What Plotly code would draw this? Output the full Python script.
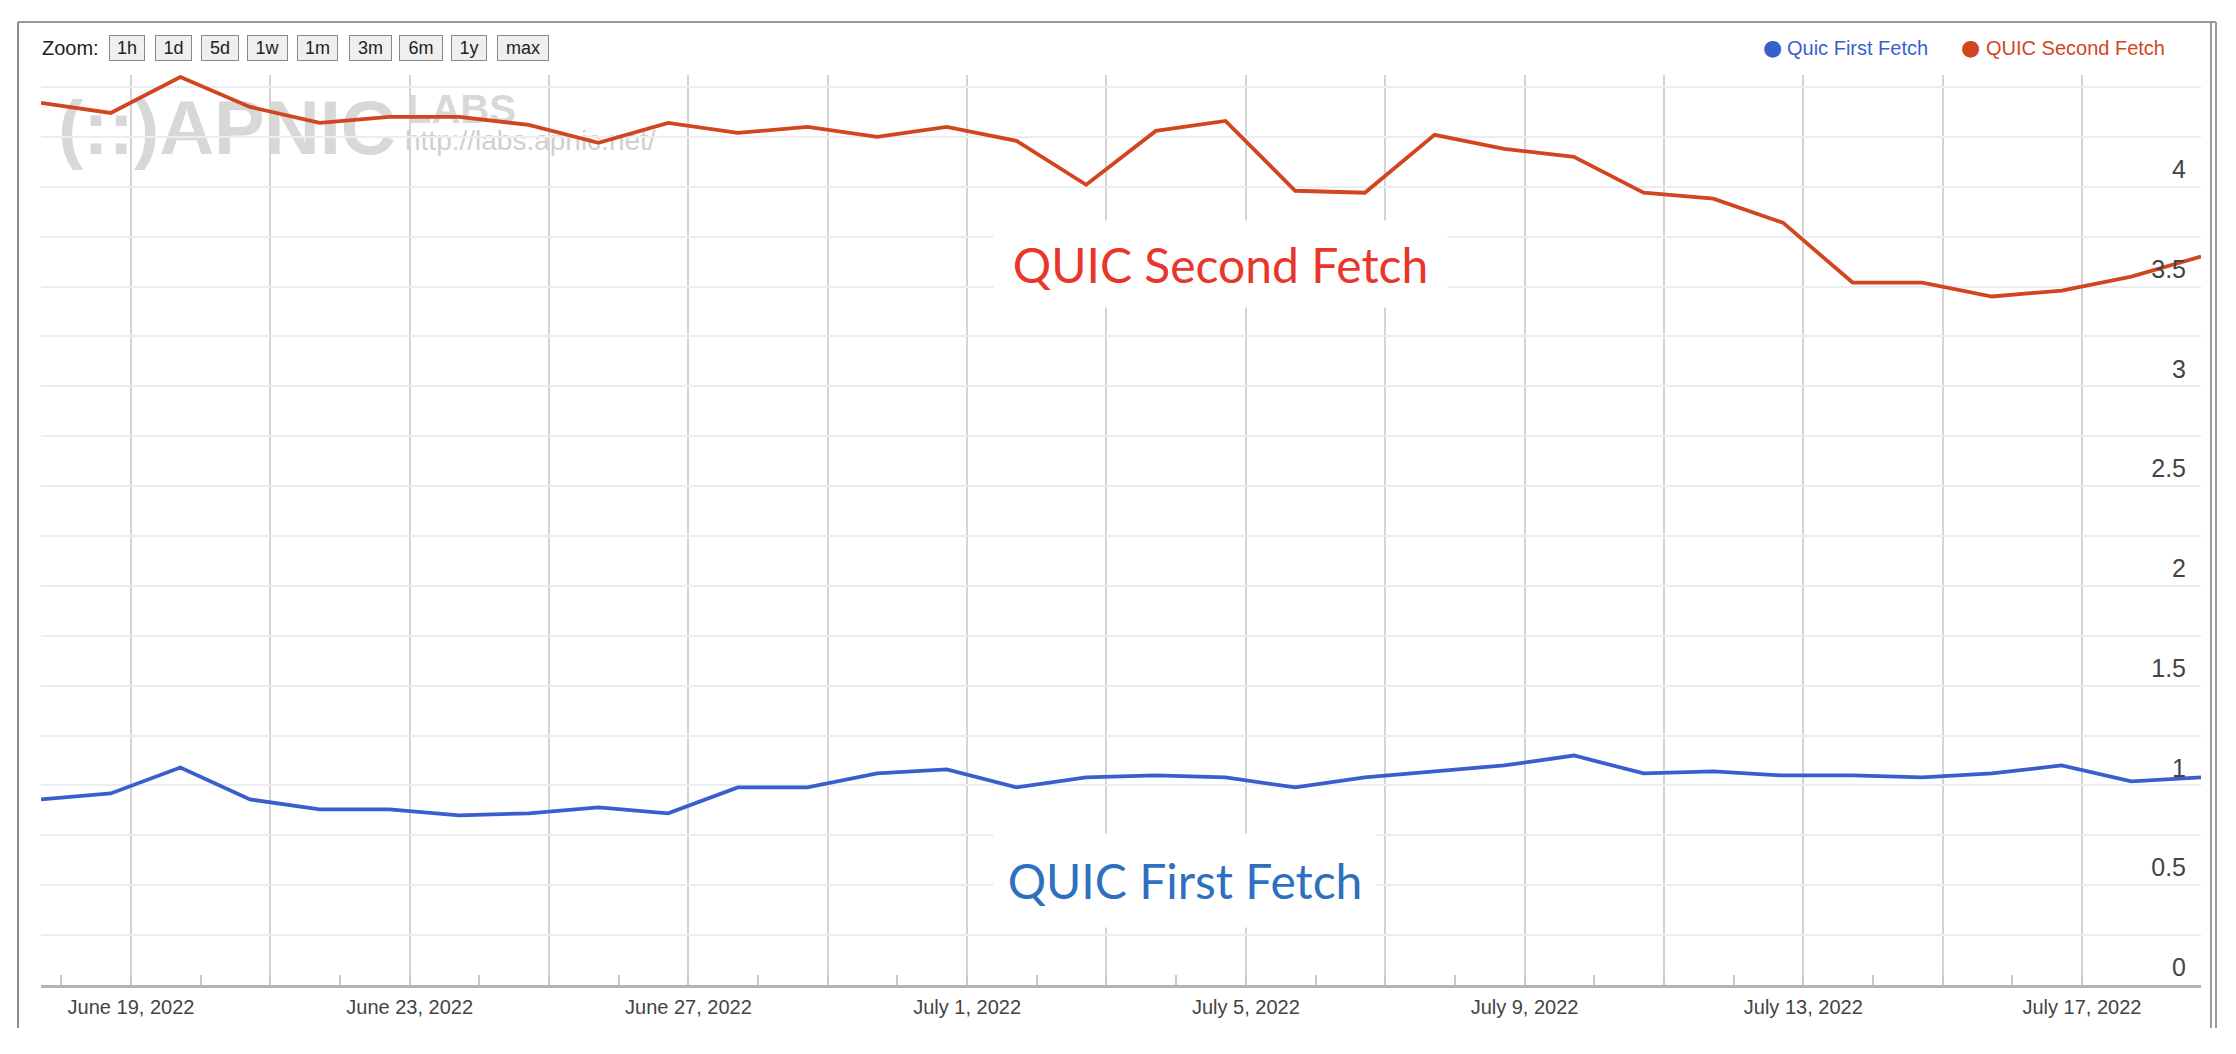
import plotly.graph_objects as go

# ---------------- data ----------------
dates = [
    "2022-06-17 17:00", "2022-06-18 17:00", "2022-06-19 17:00", "2022-06-20 17:00",
    "2022-06-21 17:00", "2022-06-22 17:00", "2022-06-23 17:00", "2022-06-24 17:00",
    "2022-06-25 17:00", "2022-06-26 17:00", "2022-06-27 17:00", "2022-06-28 17:00",
    "2022-06-29 17:00", "2022-06-30 17:00", "2022-07-01 17:00", "2022-07-02 17:00",
    "2022-07-03 17:00", "2022-07-04 17:00", "2022-07-05 17:00", "2022-07-06 17:00",
    "2022-07-07 17:00", "2022-07-08 17:00", "2022-07-09 17:00", "2022-07-10 17:00",
    "2022-07-11 17:00", "2022-07-12 17:00", "2022-07-13 17:00", "2022-07-14 17:00",
    "2022-07-15 17:00", "2022-07-16 17:00", "2022-07-17 17:00", "2022-07-18 17:00",
]

first_fetch = [0.93, 0.96, 1.09, 0.93, 0.88, 0.88, 0.85, 0.86, 0.89, 0.86, 0.99, 0.99,
               1.06, 1.08, 0.99, 1.04, 1.05, 1.04, 0.99, 1.04, 1.07, 1.10, 1.15, 1.06,
               1.07, 1.05, 1.05, 1.04, 1.06, 1.10, 1.02, 1.04]

second_fetch = [4.42, 4.37, 4.55, 4.40, 4.32, 4.35, 4.35, 4.31, 4.22, 4.32, 4.27, 4.30,
                4.25, 4.30, 4.23, 4.01, 4.28, 4.33, 3.98, 3.97, 4.26, 4.19, 4.15, 3.97,
                3.94, 3.82, 3.52, 3.52, 3.45, 3.48, 3.55, 3.65]

series_names = ["Quic First Fetch", "QUIC Second Fetch"]
callout_texts = ["QUIC First Fetch", "QUIC Second Fetch"]

x_tick_vals = ["2022-06-19", "2022-06-21", "2022-06-23", "2022-06-25", "2022-06-27",
               "2022-06-29", "2022-07-01", "2022-07-03", "2022-07-05", "2022-07-07",
               "2022-07-09", "2022-07-11", "2022-07-13", "2022-07-15", "2022-07-17"]
x_tick_text = ["June 19, 2022", "", "June 23, 2022", "", "June 27, 2022", "",
               "July 1, 2022", "", "July 5, 2022", "", "July 9, 2022", "",
               "July 13, 2022", "", "July 17, 2022"]

y_tick_vals = [0, 0.25, 0.5, 0.75, 1, 1.25, 1.5, 1.75, 2, 2.25, 2.5, 2.75,
               3, 3.25, 3.5, 3.75, 4, 4.25, 4.5]
y_tick_text = ["0", "", "0.5", "", "1", "", "1.5", "", "2", "", "2.5", "",
               "3", "", "3.5", "", "4", "", ""]

zoom_labels = ["1h", "1d", "5d", "1w", "1m", "3m", "6m", "1y", "max"]

# ---------------- geometry helpers (page pixels -> paper) ----------------
W, H = 2236, 1054
ML, MR, MT, MB = 41, 35, 75, 69
PW, PH = W - ML - MR, H - MT - MB


def px(x):
    return (x - ML) / PW


def py(y):
    return (H - MB - y) / PH


BLUE = "#3a5fcd"
ORANGE = "#d2461f"

fig = go.Figure()
fig.add_trace(go.Scatter(x=dates, y=first_fetch, mode="lines", name=series_names[0],
                         line=dict(color=BLUE, width=3.8), showlegend=False))
fig.add_trace(go.Scatter(x=dates, y=second_fetch, mode="lines", name=series_names[1],
                         line=dict(color=ORANGE, width=3.8), showlegend=False))

annotations = []
shapes = []

# zoom buttons
annotations.append(dict(text="Zoom:", x=px(70), y=py(48), xref="paper", yref="paper",
                        showarrow=False, xanchor="center", yanchor="middle",
                        font=dict(family="Liberation Sans Narrow, Liberation Sans", size=20,
                                  color="#222222")))
btn_centers = [127, 173, 220, 267, 317, 370, 421, 469, 523]
btn_widths = [36, 37, 38, 41, 41, 43, 44, 36, 52]
for lab, cx, bw in zip(zoom_labels, btn_centers, btn_widths):
    annotations.append(dict(text=lab, x=px(cx), y=py(48), xref="paper", yref="paper",
                            showarrow=False, xanchor="center", yanchor="middle",
                            width=bw - 6, height=20, borderpad=2, borderwidth=1,
                            bordercolor="#8a8a8a", bgcolor="#efefef",
                            font=dict(family="Liberation Sans Narrow, Liberation Sans",
                                      size=18, color="#222222")))

# legend (top right)
legend_items = [(series_names[0], BLUE, 1772, 1785), (series_names[1], ORANGE, 1970, 1984)]
for name, col, dotx, textx in legend_items:
    annotations.append(dict(text="●", x=px(dotx), y=py(47), xref="paper", yref="paper",
                            showarrow=False, xanchor="center", yanchor="middle",
                            font=dict(family="DejaVu Sans", size=22, color=col)))
    annotations.append(dict(text=name, x=px(textx), y=py(48), xref="paper", yref="paper",
                            showarrow=False, xanchor="left", yanchor="middle",
                            font=dict(family="Liberation Sans", size=20, color=col)))

# big callouts
annotations.append(dict(text=callout_texts[1], x=px(1220), y=py(264), xref="paper",
                        yref="paper", showarrow=False, xanchor="center", yanchor="middle",
                        width=433, height=66, borderpad=10, bgcolor="white",
                        font=dict(family="Lato", size=48, color="#e8372a")))
annotations.append(dict(text=callout_texts[0], x=px(1185), y=py(880), xref="paper",
                        yref="paper", showarrow=False, xanchor="center", yanchor="middle",
                        width=362, height=73, borderpad=10, bgcolor="white",
                        font=dict(family="Lato", size=48, color="#2e6fbe")))

# watermark (below gridlines)
wm = [("(::)APNIC", 55, 405, 88, 152, 76, "bold", "#d8d8d8"),
      ("LABS", 404, 520, 86, 124, 40, "bold", "#d8d8d8"),
      ("http://labs.apnic.net/", 402, 700, 122, 152, 28, "normal", "#d0d0d0")]
for txt, x0, x1, y0, y1, fs, wt, col in wm:
    shapes.append(dict(type="rect", xref="paper", yref="paper", x0=px(x0), x1=px(x1),
                       y0=py(y1), y1=py(y0), line=dict(width=0), fillcolor="rgba(0,0,0,0)",
                       layer="below",
                       label=dict(text=txt, textposition="middle left", padding=0,
                                  font=dict(family="Liberation Sans", size=fs, color=col,
                                            weight=wt))))

# outer frame
frame_col = "#9a9a9a"
shapes.append(dict(type="line", xref="paper", yref="paper", x0=px(18), x1=px(18),
                   y0=py(1028), y1=py(22), line=dict(color="#8c8c8c", width=2)))
shapes.append(dict(type="line", xref="paper", yref="paper", x0=px(18), x1=px(2216),
                   y0=py(22), y1=py(22), line=dict(color=frame_col, width=2)))
for xx in (2211, 2216):
    shapes.append(dict(type="line", xref="paper", yref="paper", x0=px(xx), x1=px(xx),
                       y0=py(1028), y1=py(22), line=dict(color=frame_col, width=2)))

fig.update_layout(
    width=W, height=H,
    margin=dict(l=ML, r=MR, t=MT, b=MB, pad=0),
    paper_bgcolor="white", plot_bgcolor="white",
    showlegend=False,
    annotations=annotations,
    shapes=shapes,
    xaxis=dict(
        type="date",
        range=[dates[0], dates[-1]],
        tickmode="array", tickvals=x_tick_vals, ticktext=x_tick_text,
        ticks="", showgrid=True, gridcolor="#d4d4d4", gridwidth=2,
        showline=True, linecolor="#b4b4b4", linewidth=2.5,
        zeroline=False,
        tickfont=dict(family="Liberation Sans", size=20, color="#444444"),
        ticklabelstandoff=2,
        minor=dict(dtick=86400000, tick0="2022-06-18", ticks="inside", ticklen=10,
                   tickwidth=2, tickcolor="#c8c8c8", showgrid=False),
        fixedrange=True,
    ),
    yaxis=dict(
        range=[0, 4.56], side="right",
        tickmode="array", tickvals=y_tick_vals, ticktext=y_tick_text,
        ticks="", showgrid=True, gridcolor="#ececf3", gridwidth=2,
        showline=False, zeroline=False,
        ticklabelposition="inside top",
        ticklabelstandoff=12,
        tickfont=dict(family="Liberation Sans", size=25, color="#444444"),
        fixedrange=True,
    ),
)

fig.write_html("out.html", config=dict(displayModeBar=False, responsive=False),
               post_script="document.body.style.margin='0';document.body.style.overflow='hidden';")
